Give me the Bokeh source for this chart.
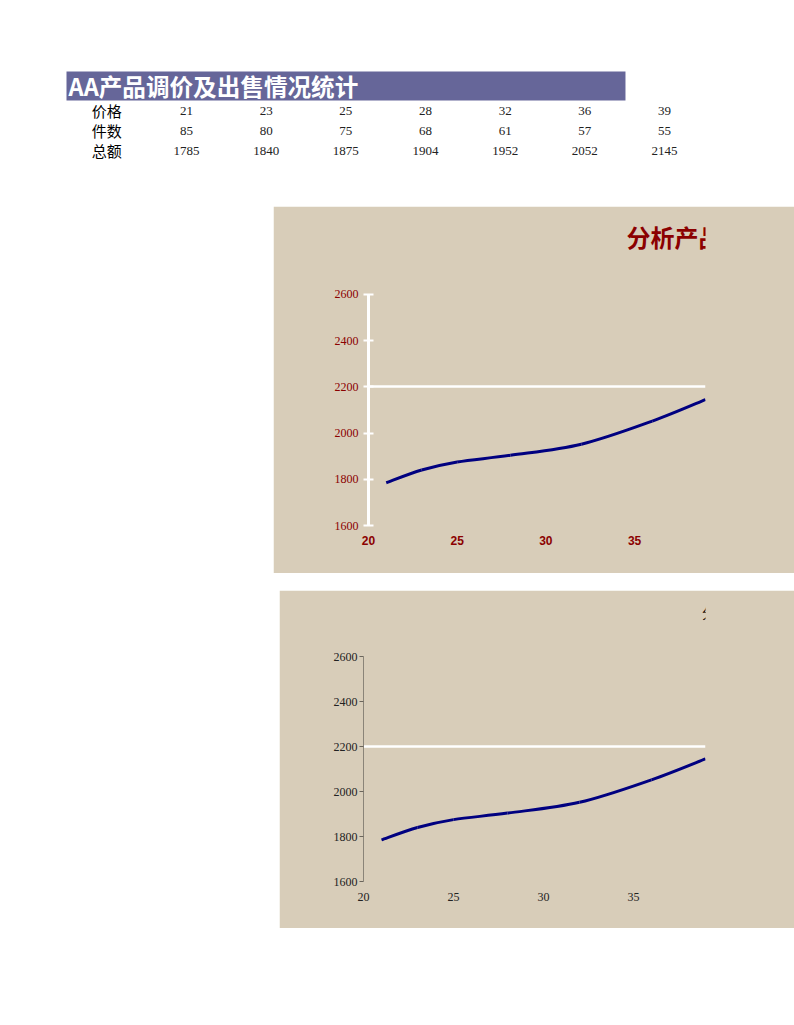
import numpy as np
from bokeh.plotting import figure
from bokeh.layouts import column, row
from bokeh.models import Range1d, FixedTicker, Spacer, ColumnDataSource
from bokeh.core.properties import value
from bokeh.embed import file_html
from bokeh.resources import INLINE

# ---------------- data ----------------
table_title = "AA产品调价及出售情况统计"
row_labels = ["价格", "件数", "总额"]
prices = [21, 23, 25, 28, 32, 36, 39]
counts = [85, 80, 75, 68, 61, 57, 55]
totals = [1785, 1840, 1875, 1904, 1952, 2052, 2145]
chart_title = "分析产品价格与总额关系"
y_ticks = [1600, 1800, 2000, 2200, 2400, 2600]
x_ticks = [20, 25, 30, 35]
grid_value = [2200]

BG = "#d8cdb9"
SERIF = "Liberation Serif"
CJK = "Noto Sans CJK SC"

# ---------------- table ----------------
t = figure(width=778, height=198, output_backend="svg", toolbar_location=None,
           x_range=Range1d(-2.234, 7.531), y_range=Range1d(4.8, -5.1),
           min_border=0, outline_line_color=None)
t.axis.visible = False
t.grid.visible = False
t.background_fill_color = "white"
t.border_fill_color = "white"

t.quad(left=-1.506, right=5.51, top=-1.95, bottom=-0.5, fill_color="#666699", line_color=None)
t.text(x=[-1.48], y=[-1.22], text=[table_title], text_color="white",
       text_font=value(CJK), text_font_style="bold", text_font_size="23.6px",
       text_align="left", text_baseline="middle")

t.text(x=[-1] * 3, y=[0, 1, 2], text=row_labels, text_color="black",
       text_font=value(CJK), text_font_size="15px",
       text_align="center", text_baseline="middle")

idx = list(range(len(prices)))
for r, vals in enumerate([prices, counts, totals]):
    t.text(x=idx, y=[r] * len(vals), text=[str(v) for v in vals], text_color="#222222",
           text_font=value(SERIF), text_font_size="13px",
           text_align="center", text_baseline="middle")

# ---------------- smooth curve (Excel-style bezier) ----------------
xs = np.array(prices, dtype=float)
ys = np.array(totals, dtype=float)
n = len(xs)
xe = np.concatenate([[xs[0]], xs, [xs[-1]]])
ye = np.concatenate([[ys[0]], ys, [ys[-1]]])
bz = dict(x0=[], y0=[], x1=[], y1=[], cx0=[], cy0=[], cx1=[], cy1=[])
for i in range(n - 1):
    j = i + 1
    bz["x0"].append(xe[j]); bz["y0"].append(ye[j])
    bz["x1"].append(xe[j + 1]); bz["y1"].append(ye[j + 1])
    bz["cx0"].append(xe[j] + (xe[j + 1] - xe[j - 1]) / 6)
    bz["cy0"].append(ye[j] + (ye[j + 1] - ye[j - 1]) / 6)
    bz["cx1"].append(xe[j + 1] - (xe[j + 2] - xe[j]) / 6)
    bz["cy1"].append(ye[j + 1] - (ye[j + 2] - ye[j]) / 6)


def make_chart(width, height, left, bottom, y_end, style):
    p = figure(width=width, height=height, output_backend="svg", toolbar_location=None,
               x_range=Range1d(20, 39), y_range=Range1d(1600, y_end),
               min_border_left=left, min_border_right=89, min_border_top=4,
               min_border_bottom=bottom)
    p.outline_line_color = BG
    p.outline_line_width = 2
    p.background_fill_color = BG
    p.border_fill_color = BG
    p.xgrid.visible = False
    p.ygrid.ticker = FixedTicker(ticks=grid_value)
    p.ygrid.grid_line_color = "white"
    p.ygrid.grid_line_width = 2.5

    p.yaxis.ticker = FixedTicker(ticks=y_ticks)
    p.yaxis.bounds = (y_ticks[0], y_ticks[-1])
    p.yaxis.major_label_text_font = SERIF
    p.yaxis.major_label_text_font_size = "12px"
    p.yaxis.minor_tick_line_color = None

    p.xaxis.ticker = FixedTicker(ticks=x_ticks)
    p.xaxis.axis_line_color = None
    p.xaxis.major_tick_line_color = None
    p.xaxis.minor_tick_line_color = None

    if style == 1:
        p.yaxis.axis_line_color = "white"
        p.yaxis.axis_line_width = 3
        p.yaxis.major_tick_line_color = "white"
        p.yaxis.major_tick_line_width = 2
        p.yaxis.major_tick_in = 5
        p.yaxis.major_tick_out = 5
        p.yaxis.major_label_standoff = 5
        p.yaxis.major_label_text_color = "#8b0000"
        p.xaxis.major_label_text_color = "#8b0000"
        p.xaxis.major_label_text_font = "Liberation Sans Narrow, Liberation Sans, Arial"
        p.xaxis.major_label_text_font_style = "bold"
        p.xaxis.major_label_text_font_size = "12px"
        p.xaxis.major_label_standoff = 4
    else:
        p.yaxis.axis_line_color = "#8a8478"
        p.yaxis.axis_line_width = 1
        p.yaxis.major_tick_line_color = "#6a655c"
        p.yaxis.major_tick_in = 0
        p.yaxis.major_tick_out = 4
        p.yaxis.major_label_standoff = 2
        p.yaxis.major_label_text_color = "#222222"
        p.xaxis.major_label_text_color = "#222222"
        p.xaxis.major_label_text_font = SERIF
        p.xaxis.major_label_text_font_size = "12px"
        p.xaxis.major_label_standoff = 5

    p.bezier(x0="x0", y0="y0", x1="x1", y1="y1", cx0="cx0", cy0="cy0", cx1="cx1", cy1="cy1",
             source=ColumnDataSource(bz), line_color="#000080", line_width=3)
    return p


p1 = make_chart(521, 367, 95, 48, 2963.6, 1)
p1.text(x=[34.54], y=[2850], text=[chart_title], text_color="#8b0000",
        text_font=value(CJK), text_font_style="bold", text_font_size="24px",
        text_align="left", text_baseline="middle")

p2 = make_chart(515, 338, 84, 47, 2875.6, 2)
p2.text(x=[38.8], y=[2800], text=[chart_title], text_color="black",
        text_font=value(CJK), text_font_size="14px",
        text_align="left", text_baseline="middle")

layout = row(
    Spacer(width=8, height=10),
    column(
        Spacer(width=10, height=8),
        t,
        row(Spacer(width=265, height=367), p1),
        Spacer(width=10, height=17),
        row(Spacer(width=271, height=338), p2),
    ),
)

open("out.html", "w").write(file_html(layout, INLINE))
